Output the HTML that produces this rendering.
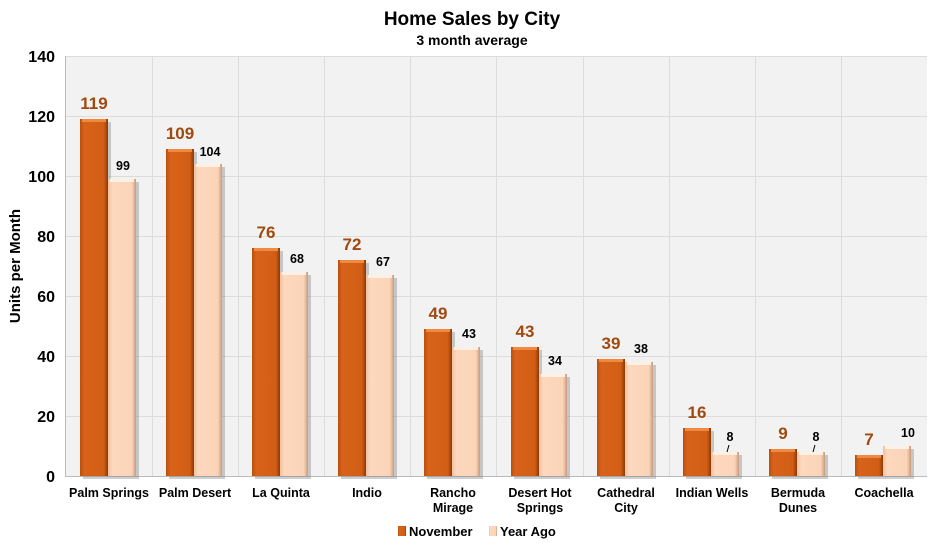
<!DOCTYPE html>
<html><head><meta charset="utf-8"><style>
body{margin:0;background:#fff}
text{font-family:"Liberation Sans",Arial,sans-serif;font-weight:bold}
.n{font-size:17px;fill:#a04a10;text-anchor:middle}
.y{font-size:12.5px;text-anchor:middle}
</style></head><body>
<svg width="944" height="546" viewBox="0 0 944 546" xmlns="http://www.w3.org/2000/svg">
<defs>
<linearGradient id="o" x1="0" x2="1"><stop offset="0" stop-color="#b84f0e"/><stop offset="0.15" stop-color="#d8621a"/><stop offset="0.85" stop-color="#d25e16"/><stop offset="1" stop-color="#8a3a08"/></linearGradient>
<linearGradient id="p" x1="0" x2="1"><stop offset="0" stop-color="#f0c0a0"/><stop offset="0.15" stop-color="#fdd8bd"/><stop offset="0.85" stop-color="#fbd4b8"/><stop offset="1" stop-color="#c99a7c"/></linearGradient>
</defs>
<text x="472" y="25" font-size="19" text-anchor="middle">Home Sales by City</text>
<text x="472" y="45" font-size="14" text-anchor="middle">3 month average</text>
<rect x="66" y="56" width="861" height="420" fill="#f2f2f2"/>
<g stroke="#dcdcdc" stroke-width="1">
<line x1="66" y1="56.5" x2="927" y2="56.5"/><line x1="66" y1="116.5" x2="927" y2="116.5"/><line x1="66" y1="176.5" x2="927" y2="176.5"/><line x1="66" y1="236.5" x2="927" y2="236.5"/><line x1="66" y1="296.5" x2="927" y2="296.5"/><line x1="66" y1="356.5" x2="927" y2="356.5"/><line x1="66" y1="416.5" x2="927" y2="416.5"/>
<line x1="152.5" y1="56" x2="152.5" y2="476"/><line x1="238.5" y1="56" x2="238.5" y2="476"/><line x1="324.5" y1="56" x2="324.5" y2="476"/><line x1="410.5" y1="56" x2="410.5" y2="476"/><line x1="496.5" y1="56" x2="496.5" y2="476"/><line x1="583.5" y1="56" x2="583.5" y2="476"/><line x1="669.5" y1="56" x2="669.5" y2="476"/><line x1="755.5" y1="56" x2="755.5" y2="476"/><line x1="841.5" y1="56" x2="841.5" y2="476"/>
</g>
<line x1="66" y1="476.5" x2="927" y2="476.5" stroke="#bbb"/>
<line x1="65.5" y1="56" x2="65.5" y2="477" stroke="#bbb"/>
<g font-size="16" text-anchor="end">
<text x="55" y="62">140</text><text x="55" y="122">120</text><text x="55" y="182">100</text><text x="55" y="242">80</text><text x="55" y="302">60</text><text x="55" y="362">40</text><text x="55" y="422">20</text><text x="55" y="482">0</text>
</g>
<text transform="translate(20,266) rotate(-90)" font-size="15" text-anchor="middle">Units per Month</text>

<g fill="#777" opacity="0.35">
<rect x="83" y="122" width="28" height="357"/><rect x="111" y="182" width="28" height="297"/>
<rect x="169" y="152" width="28" height="327"/><rect x="197" y="167" width="28" height="312"/>
<rect x="255" y="251" width="28" height="228"/><rect x="283" y="275" width="28" height="204"/>
<rect x="341" y="263" width="28" height="216"/><rect x="369" y="278" width="28" height="201"/>
<rect x="427" y="332" width="28" height="147"/><rect x="455" y="350" width="28" height="129"/>
<rect x="514" y="350" width="28" height="129"/><rect x="542" y="377" width="28" height="102"/>
<rect x="600" y="362" width="28" height="117"/><rect x="628" y="365" width="28" height="114"/>
<rect x="686" y="431" width="28" height="48"/><rect x="714" y="455" width="28" height="24"/>
<rect x="772" y="452" width="28" height="27"/><rect x="800" y="455" width="28" height="24"/>
<rect x="858" y="458" width="28" height="21"/><rect x="886" y="449" width="28" height="30"/>
</g>
<g fill="url(#o)">
<rect x="80" y="119" width="28" height="357"/><rect x="166" y="149" width="28" height="327"/><rect x="252" y="248" width="28" height="228"/><rect x="338" y="260" width="28" height="216"/><rect x="424" y="329" width="28" height="147"/><rect x="511" y="347" width="28" height="129"/><rect x="597" y="359" width="28" height="117"/><rect x="683" y="428" width="28" height="48"/><rect x="769" y="449" width="28" height="27"/><rect x="855" y="455" width="28" height="21"/>
</g>
<g fill="#f08a40">
<rect x="82" y="119" width="24" height="3"/><rect x="168" y="149" width="24" height="3"/><rect x="254" y="248" width="24" height="3"/><rect x="340" y="260" width="24" height="3"/><rect x="426" y="329" width="24" height="3"/><rect x="513" y="347" width="24" height="3"/><rect x="599" y="359" width="24" height="3"/><rect x="685" y="428" width="24" height="3"/><rect x="771" y="449" width="24" height="3"/><rect x="857" y="455" width="24" height="3"/>
</g>
<g fill="url(#p)">
<rect x="108" y="179" width="28" height="297"/><rect x="194" y="164" width="28" height="312"/><rect x="280" y="272" width="28" height="204"/><rect x="366" y="275" width="28" height="201"/><rect x="452" y="347" width="28" height="129"/><rect x="539" y="374" width="28" height="102"/><rect x="625" y="362" width="28" height="114"/><rect x="711" y="452" width="28" height="24"/><rect x="797" y="452" width="28" height="24"/><rect x="883" y="446" width="28" height="30"/>
</g>
<g fill="#fff0e4">
<rect x="110" y="179" width="24" height="3"/><rect x="196" y="164" width="24" height="3"/><rect x="282" y="272" width="24" height="3"/><rect x="368" y="275" width="24" height="3"/><rect x="454" y="347" width="24" height="3"/><rect x="541" y="374" width="24" height="3"/><rect x="627" y="362" width="24" height="3"/><rect x="713" y="452" width="24" height="3"/><rect x="799" y="452" width="24" height="3"/><rect x="885" y="446" width="24" height="3"/>
</g>
<text class="n" x="94" y="109">119</text><text class="n" x="180" y="139">109</text><text class="n" x="266" y="238">76</text><text class="n" x="352" y="250">72</text><text class="n" x="438" y="319">49</text><text class="n" x="525" y="337">43</text><text class="n" x="611" y="349">39</text><text class="n" x="697" y="418">16</text><text class="n" x="783" y="439">9</text><text class="n" x="869" y="445">7</text>
<text class="y" x="123" y="170">99</text><text class="y" x="210" y="156">104</text><text class="y" x="297" y="263">68</text><text class="y" x="383" y="266">67</text><text class="y" x="469" y="338">43</text><text class="y" x="555" y="365">34</text><text class="y" x="641" y="353">38</text><text class="y" x="730" y="441">8</text><text class="y" x="816" y="441">8</text><text class="y" x="908" y="437">10</text>
<line x1="729" y1="445" x2="727" y2="452" stroke="#000"/><line x1="815" y1="445" x2="813" y2="452" stroke="#000"/>
<g font-size="12.5" text-anchor="middle">
<text x="109" y="497">Palm Springs</text>
<text x="195" y="497">Palm Desert</text>
<text x="281" y="497">La Quinta</text>
<text x="367" y="497">Indio</text>
<text x="453" y="497">Rancho</text><text x="453" y="512">Mirage</text>
<text x="540" y="497">Desert Hot</text><text x="540" y="512">Springs</text>
<text x="626" y="497">Cathedral</text><text x="626" y="512">City</text>
<text x="712" y="497">Indian Wells</text>
<text x="798" y="497">Bermuda</text><text x="798" y="512">Dunes</text>
<text x="884" y="497">Coachella</text>
</g>
<rect x="398" y="526" width="8" height="10" fill="url(#o)"/>
<text x="409" y="536" font-size="13">November</text>
<rect x="489" y="526" width="8" height="10" fill="url(#p)"/>
<text x="500" y="536" font-size="13">Year Ago</text>
</svg>
</body></html>
